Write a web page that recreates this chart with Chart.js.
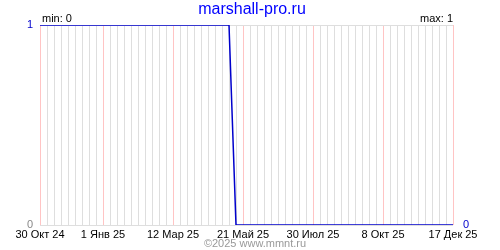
<!DOCTYPE html>
<html>
<head>
<meta charset="utf-8">
<script src="https://cdn.jsdelivr.net/npm/chart.js@4"></script>
<style>
  html, body { margin: 0; padding: 0; background: #fff; }
  #wrap { width: 500px; height: 250px; }
</style>
</head>
<body>
<div id="wrap"><canvas id="chart" width="500" height="250"></canvas></div>
<script>
// данные (дни от 30 Окт 24)
const tickLabels = ['30 Окт 24', '1 Янв 25', '12 Мар 25', '21 Май 25', '30 Июл 25', '8 Окт 25', '17 Дек 25'];
const tickDays = [0, 63, 133, 203, 273, 343, 413];
const pointDays = [0, 189, 196, 413];
const pointValues = [1, 1, 0, 0];
const minValue = 0;
const maxValue = 1;
const lastValue = 0;

const BLUE = '#0000cc';

// подписи сверху и снизу
const textPlugin = {
    id: 'texts',
    afterDraw(chart) {
        const c = chart.ctx;
        const a = chart.chartArea;
        c.save();
        c.textBaseline = 'alphabetic';
        c.font = '16px "Liberation Sans", Arial, sans-serif';
        c.fillStyle = '#0000ff';
        c.textAlign = 'center';
        c.fillText('marshall-pro.ru', 252, 14);

        c.font = '11px "Liberation Sans", Arial, sans-serif';
        c.fillStyle = '#000';
        c.textAlign = 'left';
        c.fillText('min: ' + minValue, a.left + 2, 22);
        c.textAlign = 'right';
        c.fillText('max: ' + maxValue, a.right, 22);

        c.fillStyle = '#999';
        c.textAlign = 'center';
        c.fillText('©2025 www.mmnt.ru', 255, 247);
        c.restore();
    }
};

const ctx = document.getElementById('chart').getContext('2d');
new Chart(ctx, {
    type: 'line',
    data: {
        datasets: [{
            data: pointDays.map((d, i) => ({ x: d, y: pointValues[i] })),
            borderColor: BLUE,
            borderWidth: 1.5,
            pointRadius: 0,
            tension: 0,
            yAxisID: 'y'
        }]
    },
    options: {
        responsive: false,
        animation: false,
        layout: { padding: { top: 25, left: 0, right: 0, bottom: 0 } },
        plugins: { legend: { display: false }, tooltip: { enabled: false } },
        scales: {
            x: {
                type: 'linear',
                min: 0,
                max: 413,
                afterFit(s) { s.height = 25; },
                border: { display: false },
                grid: {
                    drawTicks: false,
                    lineWidth: 1,
                    color: (c) => tickDays.includes(c.tick.value) ? '#ffc4c4' : '#dedede'
                },
                ticks: {
                    stepSize: 7,
                    autoSkip: false,
                    maxRotation: 0,
                    padding: 3,
                    color: '#000',
                    font: { family: '"Liberation Sans", Arial, sans-serif', size: 11 },
                    callback: (v) => {
                        const i = tickDays.indexOf(v);
                        return i >= 0 ? tickLabels[i] : '';
                    }
                }
            },
            y: {
                position: 'left',
                min: 0,
                max: 1,
                afterFit(s) { s.width = 40; },
                border: { display: false },
                grid: { drawTicks: false, color: '#dedede' },
                ticks: {
                    stepSize: 1,
                    padding: 7,
                    color: (c) => c.tick.value === 1 ? BLUE : '#888',
                    font: { family: '"Liberation Sans", Arial, sans-serif', size: 11 }
                }
            },
            y2: {
                position: 'right',
                min: 0,
                max: 1,
                afterFit(s) { s.width = 47; },
                afterBuildTicks(s) { s.ticks = [{ value: lastValue }]; },
                border: { display: false },
                grid: { display: false, drawTicks: false },
                ticks: {
                    padding: 10,
                    color: BLUE,
                    font: { family: '"Liberation Sans", Arial, sans-serif', size: 11 }
                }
            }
        }
    },
    plugins: [textPlugin]
});
</script>
</body>
</html>
